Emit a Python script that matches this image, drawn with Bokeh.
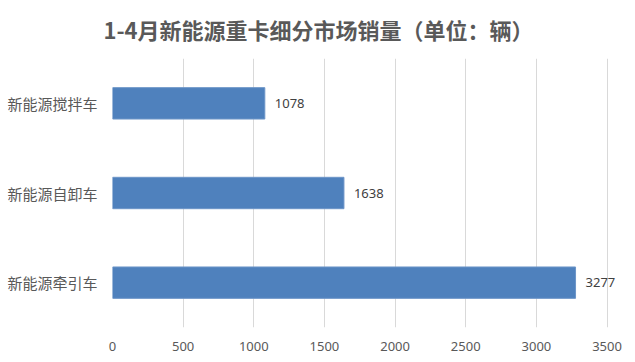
from bokeh.plotting import figure
from bokeh.models import ColumnDataSource, LabelSet, FixedTicker, Range1d, FactorRange
from bokeh.core.properties import value
from bokeh.embed import file_html
from bokeh.resources import INLINE

# data (top to bottom as shown)
categories = ["新能源搅拌车", "新能源自卸车", "新能源牵引车"]
sales = [1078, 1638, 3277]
x_ticks = [0, 500, 1000, 1500, 2000, 2500, 3000, 3500]
title_text = "1-4月新能源重卡细分市场销量（单位：辆）"

factors = list(reversed(categories))
source = ColumnDataSource(dict(cat=categories, val=sales, lbl=[str(v) for v in sales]))

p = figure(frame_width=518, frame_height=269, output_backend="svg", toolbar_location=None,
           y_range=FactorRange(factors=factors), x_range=Range1d(0, 3666),
           min_border_left=112, min_border_right=0, min_border_top=58, min_border_bottom=0)

p.hbar(y="cat", right="val", left=0, height=0.35, source=source,
       fill_color="#4F81BD", line_color="#6D95C8", line_width=1)

labels = LabelSet(x="val", y="cat", text="lbl", source=source, x_offset=10,
                  text_baseline="middle", text_align="left",
                  text_font=value("Noto Sans"), text_font_size="13px", text_color="#404040")
p.add_layout(labels)

p.title.text = title_text
p.title.text_font = "Noto Sans CJK SC"
p.title.text_font_size = "22px"
p.title.text_font_style = "bold"
p.title.text_color = "#595959"
p.title.align = "left"
p.title.vertical_align = "top"
p.title.offset = -9
p.title.standoff = 24

p.xaxis.ticker = FixedTicker(ticks=x_ticks)
p.xaxis.axis_line_color = None
p.xaxis.major_tick_line_color = None
p.xaxis.minor_tick_line_color = None
p.xaxis.major_tick_in = 0
p.xaxis.major_tick_out = 0
p.xaxis.major_label_standoff = 14
p.xaxis.major_label_text_font = "Noto Sans"
p.xaxis.major_label_text_font_size = "13px"
p.xaxis.major_label_text_color = "#595959"

p.yaxis.axis_line_color = None
p.yaxis.major_tick_line_color = None
p.yaxis.minor_tick_line_color = None
p.yaxis.major_tick_in = 0
p.yaxis.major_tick_out = 0
p.yaxis.major_label_standoff = 15
p.yaxis.major_label_text_font = "Noto Sans CJK SC"
p.yaxis.major_label_text_font_size = "15px"
p.yaxis.major_label_text_color = "#595959"

p.xgrid.grid_line_color = "#D9D9D9"
p.xgrid.grid_line_width = 1
p.ygrid.grid_line_color = None
p.outline_line_color = None
p.background_fill_color = "white"
p.border_fill_color = "white"

open("out.html", "w").write(file_html(p, INLINE))
